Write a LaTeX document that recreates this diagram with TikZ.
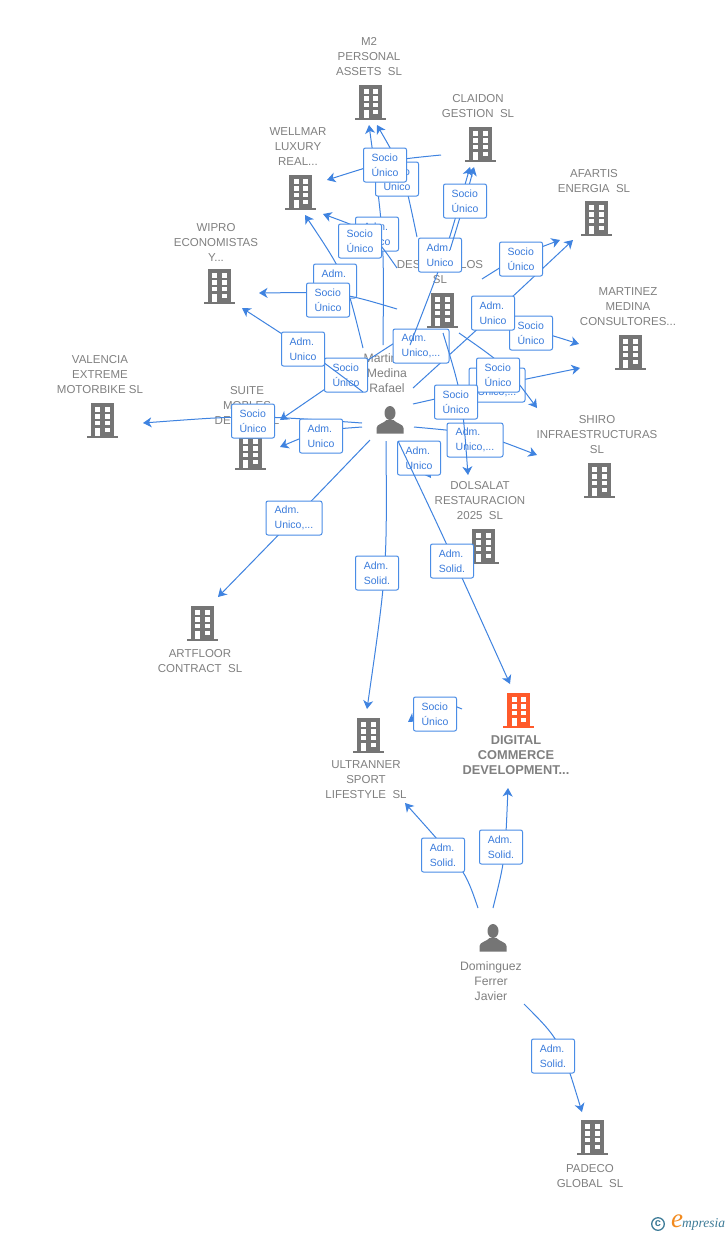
\documentclass[tikz,border=0pt]{standalone}
\usepackage{fontspec}
\setmainfont{Liberation Sans}
\newfontfamily\logofont{Liberation Serif}
\usetikzlibrary{arrows.meta}
\definecolor{linkblue}{HTML}{3F83E0}
\definecolor{boxblue}{HTML}{4A8DE6}
\definecolor{txtblue}{HTML}{3A7BDB}
\definecolor{txtgray}{HTML}{808080}
\definecolor{icongray}{HTML}{757575}
\definecolor{iconred}{HTML}{FF5A2B}
\definecolor{logoteal}{HTML}{3E7C98}
\definecolor{logoorange}{HTML}{F28A1E}
\tikzset{
  lbl/.style={draw=boxblue,line width=1pt,fill=white,rounded corners=2pt,inner sep=0pt,
    minimum width=43pt,minimum height=34pt,align=left,text=txtblue,
    font=\fontsize{10.5}{15}\selectfont},
  lblw/.style={lbl,minimum width=56pt},
  link/.style={draw=linkblue,line width=1pt,-{Stealth[length=8.5pt,width=10pt,inset=2.5pt]}},
  coname/.style={align=center,text=txtgray,font=\fontsize{11.5}{15}\selectfont,inner sep=0pt,yshift=-1pt},
  pername/.style={coname,font=\fontsize{12.2}{15}\selectfont},
  boldname/.style={coname,font=\fontsize{12.8}{15}\selectfont\bfseries},
}
% connector: id, start, control, end, label position, label style, label text
\newcommand{\conn}[7]{%
  \coordinate (#1-s) at (#2);
  \coordinate (#1-c) at (#3);
  \coordinate (#1-e) at (#4);
  \draw[link] (#1-s) .. controls (#1-c) .. (#1-e);
  \node[#6] (#1) at (#5) {#7};
}
% building: id, x, y, colour
\newcommand{\building}[4]{%
  \node[minimum width=32pt,minimum height=35pt,inner sep=0pt] (#1) at (#2,#3) {};
  \begin{scope}[shift={(#2,#3)}]
    \fill[#4] (-11.5,-17) rectangle (11.5,15.5);
    \fill[#4] (-15.5,15.5) rectangle (15.5,17.5);
    \fill[white] (-6.8,-13) rectangle (-1.8,-8.5);
    \fill[white] (2.8,-13) rectangle (7.8,-8.5);
    \fill[white] (-6.8,-6) rectangle (-1.8,-1.5);
    \fill[white] (2.8,-6) rectangle (7.8,-1.5);
    \fill[white] (-6.8,1) rectangle (-1.8,5);
    \fill[white] (2.8,1) rectangle (7.8,5);
    \fill[white] (-6.8,8) rectangle (-1.8,15.5);
    \fill[white] (2.8,8) rectangle (7.8,12);
  \end{scope}
}
% person: id, x, y
\newcommand{\person}[3]{%
  \node[minimum width=28pt,minimum height=30pt,inner sep=0pt] (#1) at (#2,#3) {};
  \begin{scope}[shift={(#2,#3)}]
    \fill[icongray] (0,-7) ellipse (5.5 and 7);
    \fill[icongray] (-13.5,13.5) -- (-13.5,8) .. controls (-13.5,4) and (-6,3.5) .. (-3.5,0)
      -- (3.5,0) .. controls (6,3.5) and (13.5,4) .. (13.5,8) -- (13.5,13.5) -- cycle;
  \end{scope}
}
\begin{document}
\begin{tikzpicture}[x=1pt,y=-1pt]
\useasboundingbox (0,0) rectangle (728,1235);
\fill[white] (0,0) rectangle (728,1235);

% names that the label boxes partly cover
\node[coname] (tM2) at (369,56) {M2\\PERSONAL\\ASSETS~~SL};
\node[coname] (tCL) at (478,105) {CLAIDON\\GESTION~~SL};
\node[coname] (tAF) at (594,180) {AFARTIS\\ENERGIA~~SL};
\node[coname] (tWE) at (298,146) {WELLMAR\\LUXURY\\REAL...};
\node[coname] (tWI) at (216,241) {WIPRO\\ECONOMISTAS\\Y...};
\node[coname] (tMD) at (440,264) {MEDINA\\DESARROLLOS\\SL};
\node[coname] (tMC) at (628,306) {MARTINEZ\\MEDINA\\CONSULTORES...};
\node[coname] (tVA) at (100,374) {VALENCIA\\EXTREME\\MOTORBIKE SL};
\node[coname] (tSU) at (247,405) {SUITE\\MOBLES\\DESIGN~~SL};
\node[pername] (tMP) at (387,372) {Martinez\\Medina\\Rafael};
\node[coname] (tSH) at (597,434) {SHIRO\\INFRAESTRUCTURAS\\SL};
\node[coname] (tDO) at (480,500) {DOLSALAT\\RESTAURACION\\2025~~SL};
\node[coname] (tAR) at (200,660) {ARTFLOOR\\CONTRACT~~SL};
\node[boldname] (tDI) at (516,754) {DIGITAL\\COMMERCE\\DEVELOPMENT...};
\node[coname] (tUL) at (366,779) {ULTRANNER\\SPORT\\LIFESTYLE~~SL};
\node[pername] (tDP) at (491,980) {Dominguez\\Ferrer\\Javier};
\node[coname] (tPA) at (590,1175) {PADECO\\GLOBAL~~SL};

% icons
\building{bM2}{370.5}{102}{icongray}
\building{bCL}{480}{144}{icongray}
\building{bAF}{596}{218}{icongray}
\building{bWE}{300.5}{192}{icongray}
\building{bWI}{219}{286}{icongray}
\building{bMD}{442}{310}{icongray}
\building{bMC}{630}{352}{icongray}
\building{bVA}{102}{420}{icongray}
\building{bSU}{250}{452}{icongray}
\building{bSH}{599}{480}{icongray}
\building{bDO}{483}{546}{icongray}
\building{bAR}{202}{623}{icongray}
\building{bUL}{368}{735}{icongray}
\building{bDI}{518.5}{710}{iconred}
\building{bPA}{592}{1137}{icongray}
\person{pMR}{390}{420}
\person{pDF}{493}{938}

% connectors with their labels, in stacking order
\conn{a01}{383,345}{384,235}{369,125}{377,234}{lbl}{Adm.\\Unico}
\conn{a02}{417,237}{403,170}{377,125}{397,179}{lbl}{Socio\\Único}
\conn{a03}{441,155}{390,160}{327,180}{385,165}{lbl}{Socio\\Único}
\conn{a04}{397,268}{372,232}{323,214}{360,241}{lbl}{Socio\\Único}
\conn{a05}{363,348}{345,275}{305,215}{335,281}{lbl}{Adm.\\Unico}
\conn{a06}{397,309}{340,292}{259,293}{328,300}{lbl}{Socio\\Único}
\conn{a08}{410,333}{360,365}{280,420}{346,375}{lbl}{Socio\\Único}
\conn{a07}{363,392}{310,352}{242,308}{303,349}{lbl}{Adm.\\Unico}
\conn{a09}{362,423}{250,415}{143,423}{253,421}{lbl}{Socio\\Único}
\conn{a10}{362,427}{320,430}{280,447}{321,436}{lbl}{Adm.\\Unico}
\conn{a11}{370,440}{295,518}{218,597}{294,518}{lblw}{Adm.\\Unico,...}
\conn{a12}{386,441}{387,570}{367,709}{377,573}{lbl}{Adm.\\Solid.}
\conn{a14}{405,445}{420,462}{431,478}{419,458}{lbl}{Adm.\\Unico}
\conn{a13}{398,441}{445,540}{510,684}{452,561}{lbl}{Adm.\\Solid.}
\conn{a15}{482,325}{535,330}{579,344}{531,333}{lbl}{Socio\\Único}
\conn{a16}{413,388}{493,315}{573,240}{493,313}{lbl}{Adm.\\Unico}
\conn{a17}{482,279}{520,255}{560,240}{521,259}{lbl}{Socio\\Único}
\conn{a18}{415,358}{422,346}{428,335}{421,346}{lblw}{Adm.\\Unico,...}
\conn{a19}{410,345}{445,255}{470,167}{440,255}{lbl}{Adm.\\Unico}
\conn{a20}{450,250}{465,201}{474,167}{465,201}{lbl}{Socio\\Único}
\conn{a21}{413,404}{497,385}{580,368}{497,385}{lblw}{Adm.\\Unico,...}
\conn{a22}{459,333}{505,365}{537,408}{498,375}{lbl}{Socio\\Único}
\conn{a23}{414,427}{480,433}{537,455}{475,440}{lblw}{Adm.\\Unico,...}
\conn{a24}{443,333}{462,395}{468,475}{456,402}{lbl}{Socio\\Único}
\conn{a25}{462,709}{440,700}{408,722}{435,714}{lbl}{Socio\\Único}
\conn{a26}{478,908}{465,870}{405,803}{443,855}{lbl}{Adm.\\Solid.}
\conn{a27}{493,908}{505,860}{508,788}{501,847}{lbl}{Adm.\\Solid.}
\conn{a28}{524,1004}{560,1040}{582,1112}{553,1056}{lbl}{Adm.\\Solid.}

% logo
\draw[logoteal,line width=1.3pt] (658,1224) circle (6.3);
\node[inner sep=0pt,text=logoteal,font=\bfseries\fontsize{11}{11}\selectfont] (logoC) at (658,1223.5) {c};
\node[inner sep=0pt,text=logoorange,font=\logofont\itshape\fontsize{27}{27}\selectfont] (logoE) at (677,1221) {e};
\node[inner sep=0pt,anchor=west,text=logoteal,font=\logofont\itshape\fontsize{13.5}{13.5}\selectfont] (logoT) at (682,1224.5) {mpresia};
\end{tikzpicture}
\end{document}
